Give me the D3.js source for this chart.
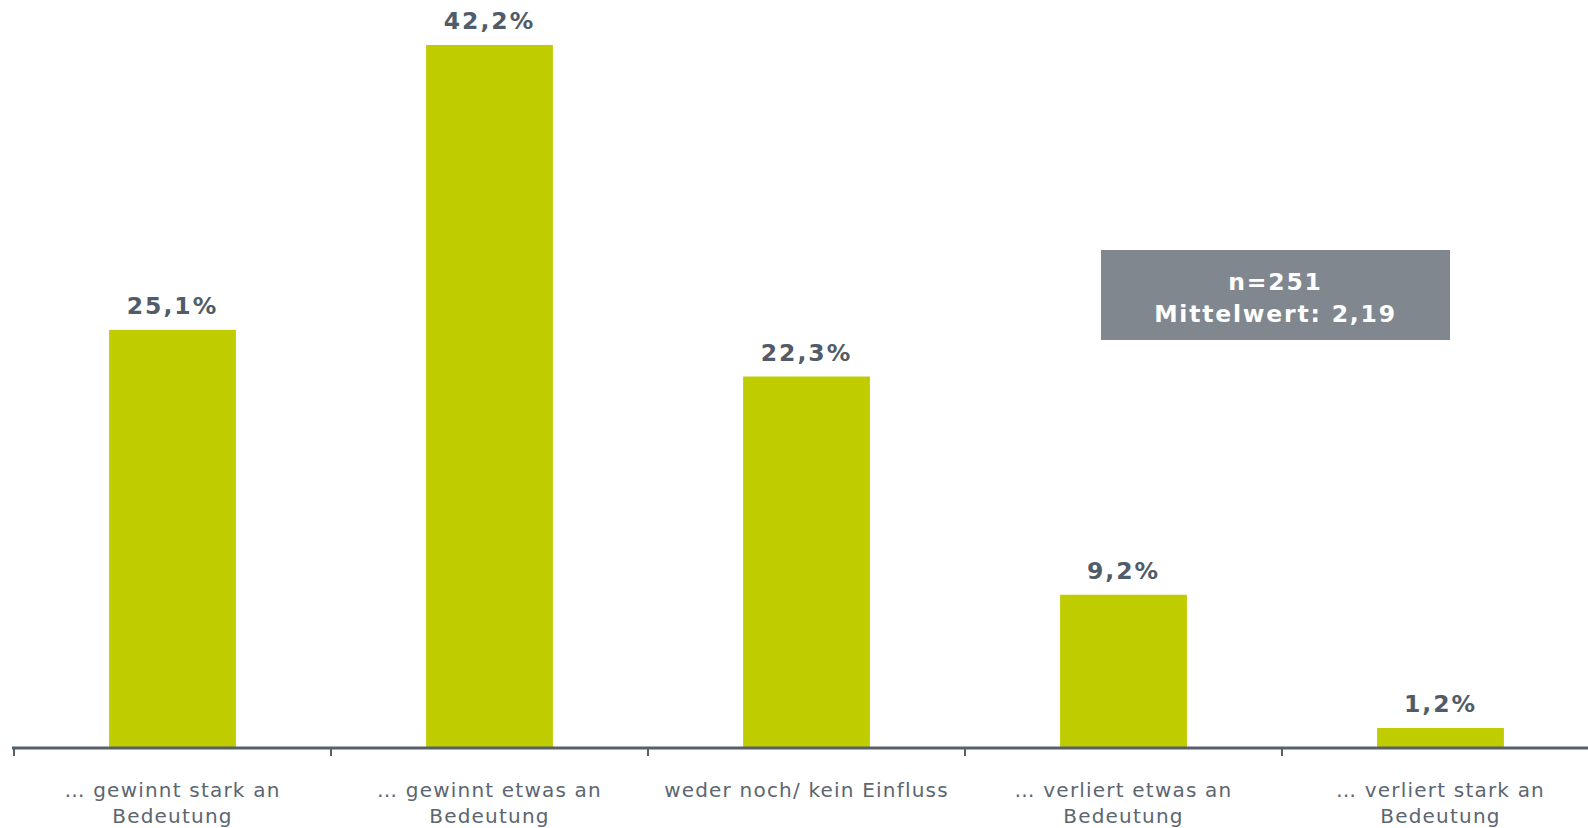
<!DOCTYPE html>
<html>
<head>
<meta charset="utf-8">
<script src="https://cdn.jsdelivr.net/npm/d3@7"></script>
<style>
  body { margin: 0; background: #fff; }
  svg { display: block; }
</style>
</head>
<body>
<div id="chart"></div>
<script>
const categories = [
  ['… gewinnt stark an', 'Bedeutung'],
  ['… gewinnt etwas an', 'Bedeutung'],
  ['weder noch/ kein Einfluss'],
  ['… verliert etwas an', 'Bedeutung'],
  ['… verliert stark an', 'Bedeutung']
]
const values = [25.1, 42.2, 22.3, 9.2, 1.2]
const valueLabels = ['25,1%', '42,2%', '22,3%', '9,2%', '1,2%']
const infoLines = ['n=251', 'Mittelwert: 2,19']

const width = 1588
const height = 828
const baseline = 748

const svg = d3
  .select('#chart')
  .append('svg')
  .attr('width', width)
  .attr('height', height)

const keys = categories.map((d, i) => i)

const xScale = d3
  .scaleBand()
  .domain(keys)
  .range([14, 14 + 317 * keys.length])
  .padding(0)

const barWidth = xScale.bandwidth() * 0.4

const yScale = d3
  .scaleLinear()
  .domain([0, 42.2])
  .range([baseline, 45])

// bars
svg
  .selectAll('.bar')
  .data(values)
  .enter()
  .append('rect')
  .attr('class', 'bar')
  .attr('x', (d, i) => xScale(i) + (xScale.bandwidth() - barWidth) / 2)
  .attr('y', d => yScale(d))
  .attr('width', barWidth)
  .attr('height', d => baseline - yScale(d))
  .attr('fill', '#bfcd00')

// value labels
svg
  .selectAll('.value')
  .data(values)
  .enter()
  .append('text')
  .attr('class', 'value')
  .text((d, i) => valueLabels[i])
  .attr('x', (d, i) => xScale(i) + xScale.bandwidth() / 2)
  .attr('y', d => yScale(d) - 16)
  .attr('text-anchor', 'middle')
  .attr('fill', '#515c68')
  .style('font-family', 'DejaVu Sans, sans-serif')
  .style('font-weight', 'bold')
  .style('font-size', '23.5px')
  .style('letter-spacing', '2px')

// axis
const axis = svg
  .append('g')
  .attr('transform', `translate(0,${baseline})`)

axis
  .append('line')
  .attr('x1', 12)
  .attr('x2', width)
  .attr('y1', 0)
  .attr('y2', 0)
  .attr('stroke', '#56606b')
  .attr('stroke-width', 3)

axis
  .selectAll('.tick')
  .data(keys)
  .enter()
  .append('line')
  .attr('class', 'tick')
  .attr('x1', d => xScale(d))
  .attr('x2', d => xScale(d))
  .attr('y1', 0)
  .attr('y2', 8)
  .attr('stroke', '#56606b')
  .attr('stroke-width', 2)

// category labels
svg
  .selectAll('.cat')
  .data(categories)
  .enter()
  .append('text')
  .attr('class', 'cat')
  .attr('text-anchor', 'middle')
  .attr('fill', '#5b6671')
  .style('font-family', 'DejaVu Sans, sans-serif')
  .style('font-size', '20px')
  .style('letter-spacing', '1.2px')
  .each(function(lines, i) {
    d3.select(this)
      .selectAll('tspan')
      .data(lines)
      .enter()
      .append('tspan')
      .attr('x', xScale(i) + xScale.bandwidth() / 2)
      .attr('y', (d, j) => 797 + j * 26)
      .text(d => d)
  })

// info box
const box = svg.append('g')
box
  .append('rect')
  .attr('x', 1101)
  .attr('y', 250)
  .attr('width', 349)
  .attr('height', 90)
  .attr('fill', '#80878f')

box
  .selectAll('text')
  .data(infoLines)
  .enter()
  .append('text')
  .text(d => d)
  .attr('x', 1101 + 349 / 2)
  .attr('y', (d, i) => 290 + i * 32)
  .attr('text-anchor', 'middle')
  .attr('fill', '#ffffff')
  .style('font-family', 'DejaVu Sans, sans-serif')
  .style('font-weight', 'bold')
  .style('font-size', '23.5px')
  .style('letter-spacing', '1.8px')
</script>
</body>
</html>
